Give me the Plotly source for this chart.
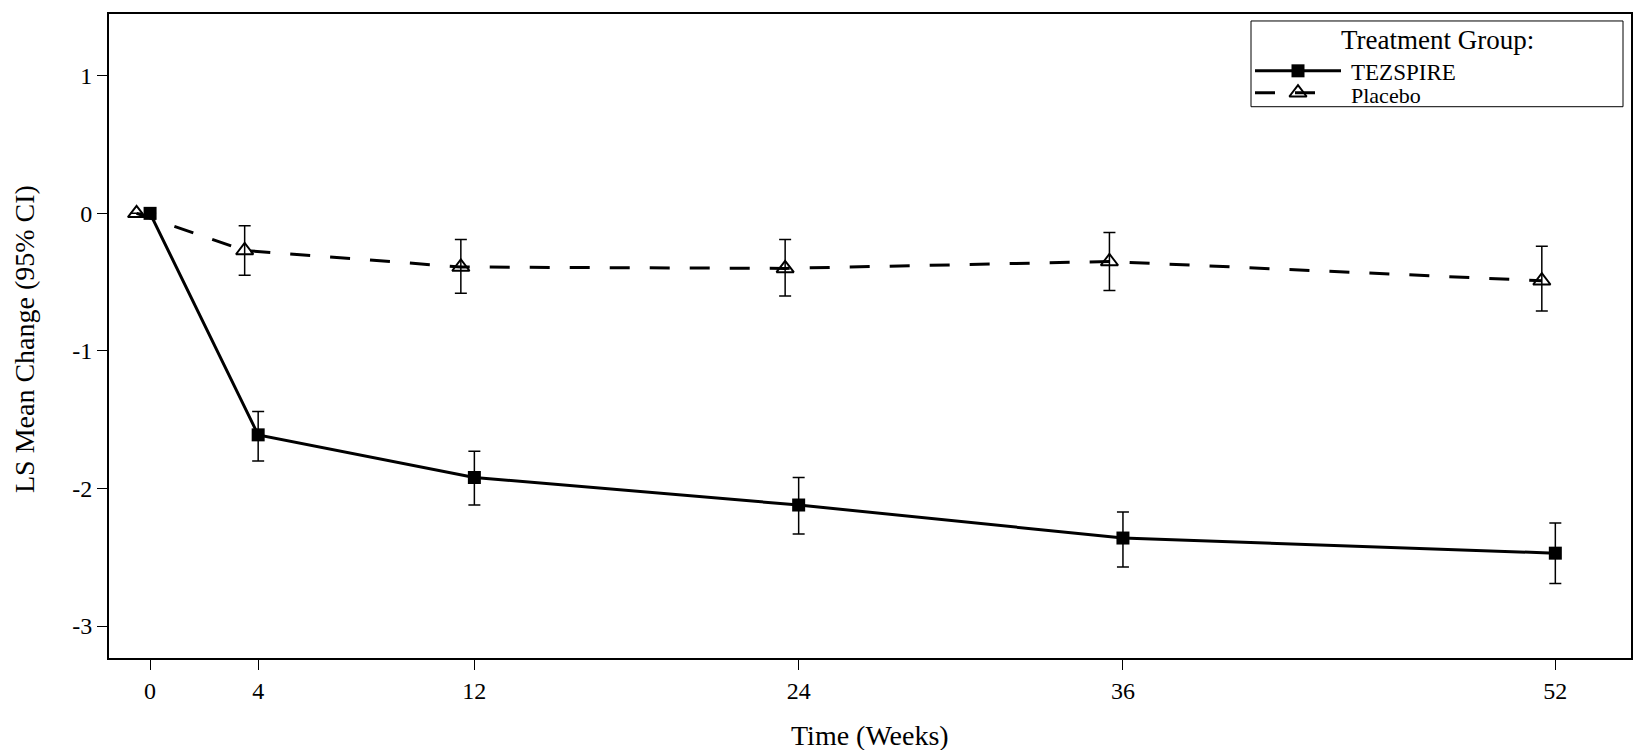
import plotly.graph_objects as go

# ---- data ----
weeks = [0, 4, 12, 24, 36, 52]
tick_vals = [0, 4, 12, 24, 36, 52]
tick_text = ["0", "4", "12", "24", "36", "52"]
y_tick_vals = [1, 0, -1, -2, -3]
y_tick_text = ["1", "0", "-1", "-2", "-3"]

tez_mean = [0.0, -1.61, -1.92, -2.12, -2.36, -2.47]
tez_upper = [None, -1.44, -1.73, -1.92, -2.17, -2.25]
tez_lower = [None, -1.80, -2.12, -2.33, -2.57, -2.69]

pbo_mean = [0.0, -0.27, -0.39, -0.40, -0.35, -0.49]
pbo_upper = [None, -0.09, -0.19, -0.19, -0.14, -0.24]
pbo_lower = [None, -0.45, -0.58, -0.60, -0.56, -0.71]

series_names = ["TEZSPIRE", "Placebo"]
legend_title = "Treatment Group:"

# horizontal dodge of placebo points (weeks), visual only
DODGE = -0.5

FONT = "Liberation Serif"


def err_plus(mean, upper):
    return [None if u is None else u - m for m, u in zip(mean, upper)]


def err_minus(mean, lower):
    return [None if l is None else m - l for m, l in zip(mean, lower)]


tez_line = dict(color="black", width=3, dash="solid")
tez_marker = dict(symbol="square", size=13, color="black")
pbo_line = dict(color="black", width=3, dash="20px,20px")
pbo_marker = dict(symbol="triangle-up-open", size=15, color="black",
                  line=dict(color="black", width=2))

fig = go.Figure()

fig.add_trace(go.Scatter(
    x=weeks, y=tez_mean, name=series_names[0], mode="lines+markers",
    line=tez_line, marker=tez_marker, showlegend=False,
    error_y=dict(type="data", symmetric=False,
                 array=err_plus(tez_mean, tez_upper),
                 arrayminus=err_minus(tez_mean, tez_lower),
                 color="black", thickness=1.5, width=6),
))

fig.add_trace(go.Scatter(
    x=[w + DODGE for w in weeks], y=pbo_mean, name=series_names[1], mode="lines+markers",
    line=pbo_line, marker=pbo_marker, showlegend=False,
    error_y=dict(type="data", symmetric=False,
                 array=err_plus(pbo_mean, pbo_upper),
                 arrayminus=err_minus(pbo_mean, pbo_lower),
                 color="black", thickness=1.5, width=6),
))

# ---- legend drawn on a hidden pixel-coordinate overlay (x2/y2) ----
PL, PR, PT, PB = 101, 1623, 4, 650   # plot area in page pixels
box = dict(x0=1243, x1=1615, y0=11, y1=97)
sym_x0, sym_x1, sym_c = 1247, 1333, 1290
rows_y = [61, 83]
text_x = 1341

fig.add_trace(go.Scatter(
    x=[sym_x0, sym_x1], y=[rows_y[0], rows_y[0]], xaxis="x2", yaxis="y2",
    mode="lines", line=tez_line, showlegend=False, hoverinfo="skip"))
fig.add_trace(go.Scatter(
    x=[sym_c], y=[rows_y[0]], xaxis="x2", yaxis="y2",
    mode="markers", marker=tez_marker, showlegend=False, hoverinfo="skip"))
fig.add_trace(go.Scatter(
    x=[sym_x0, 1310], y=[rows_y[1], rows_y[1]], xaxis="x2", yaxis="y2",
    mode="lines", line=pbo_line, showlegend=False, hoverinfo="skip"))
fig.add_trace(go.Scatter(
    x=[sym_c], y=[rows_y[1]], xaxis="x2", yaxis="y2",
    mode="markers", marker=pbo_marker, showlegend=False, hoverinfo="skip"))

fig.add_shape(type="rect", xref="x2", yref="y2", layer="below",
              line=dict(color="black", width=1), fillcolor="white", **box)

annotations = [
    dict(text=legend_title, xref="x2", yref="y2", x=(box["x0"] + box["x1"]) / 2, y=30,
         xanchor="center", yanchor="middle", showarrow=False,
         font=dict(family=FONT, size=27, color="black")),
    dict(text=series_names[0], xref="x2", yref="y2", x=text_x, y=63,
         xanchor="left", yanchor="middle", showarrow=False,
         font=dict(family=FONT, size=23, color="black")),
    dict(text=series_names[1], xref="x2", yref="y2", x=text_x, y=86,
         xanchor="left", yanchor="middle", showarrow=False,
         font=dict(family=FONT, size=22, color="black")),
    # axis titles
    dict(text="Time (Weeks)", xref="paper", yref="paper", x=0.5, y=(PB - 728) / (PB - PT),
         xanchor="center", yanchor="middle", showarrow=False,
         font=dict(family=FONT, size=28, color="black")),
    dict(text="LS Mean Change (95% CI)", xref="paper", yref="paper",
         x=(17 - PL) / (PR - PL), y=(PB - 330) / (PB - PT), textangle=-90,
         xanchor="center", yanchor="middle", showarrow=False,
         font=dict(family=FONT, size=28, color="black")),
]

axis_common = dict(
    tickmode="array",
    ticks="outside", ticklen=10, tickwidth=1, tickcolor="black",
    showline=True, linecolor="black", linewidth=2, mirror=True,
    showgrid=False, zeroline=False,
    tickfont=dict(family=FONT, size=24, color="black"),
)

fig.update_layout(
    width=1650, height=750,
    margin=dict(l=PL, r=1650 - PR, t=PT, b=750 - PB),
    paper_bgcolor="white", plot_bgcolor="white",
    font=dict(family=FONT, color="black", size=24),
    showlegend=False,
    annotations=annotations,
    xaxis=dict(range=[-1.52, 54.8], tickvals=tick_vals, ticktext=tick_text, **axis_common),
    yaxis=dict(range=[-3.232, 1.449], tickvals=y_tick_vals, ticktext=y_tick_text, **axis_common),
    xaxis2=dict(overlaying="x", anchor="y2", range=[PL, PR], visible=False,
                fixedrange=True),
    yaxis2=dict(overlaying="y", anchor="x2", range=[PB, PT], visible=False,
                fixedrange=True),
)

fig.write_html("out.html")
